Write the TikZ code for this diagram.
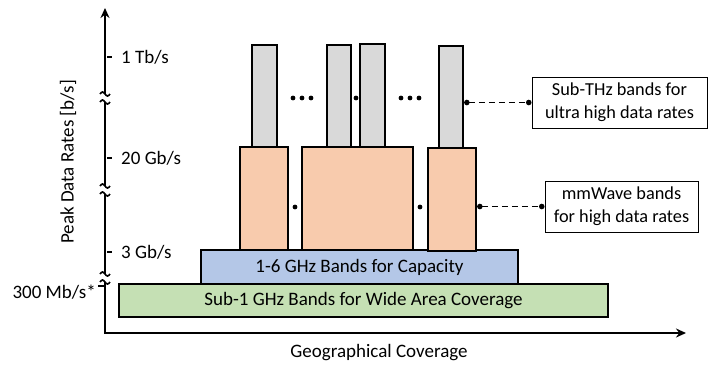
\documentclass[tikz,border=0pt]{standalone}
\usepackage{fontspec}
\setmainfont{Carlito}
\usetikzlibrary{arrows.meta}

\tikzset{
	band/.style={draw,line width=2.2pt,inner sep=0pt,font=\fontsize{19}{22}\selectfont},
	callout/.style={draw,line width=1pt,align=center,inner sep=0pt,font=\fontsize{18.3}{23}\selectfont},
	ratelabel/.style={font=\fontsize{19}{22}\selectfont,inner sep=0pt},
	leader/.style={dash pattern=on 6pt off 4pt,line width=1.4pt,{Circle[length=5.5pt]}-{Circle[length=5.5pt]}}
}
\definecolor{thzgray}{HTML}{D9D9D9}
\definecolor{mmorange}{HTML}{F8CBAD}
\definecolor{midblue}{HTML}{B4C7E7}
\definecolor{lowgreen}{HTML}{C5E0B4}

\newcommand{\axisbreak}[1]{%
	\draw[line width=1.6pt] (100,#1) sin (102.5,#1-2) cos (105,#1) sin (107.5,#1+2) cos (110,#1);
}

\begin{document}
\begin{tikzpicture}[x=1pt,y=-1pt,>={Stealth[length=10pt,width=9pt]}]

\useasboundingbox (0,0) rectangle (721,368);

% bands
\node[band,fill=lowgreen,minimum width=489pt,minimum height=33pt] (sub1) at (363.5,300.5) {Sub-1 GHz Bands for Wide Area Coverage};
\node[band,fill=midblue,minimum width=317pt,minimum height=34pt] (mid) at (359.5,267) {1-6 GHz Bands for Capacity};

\node[band,fill=mmorange,minimum width=48pt,minimum height=103pt] (mm1) at (264,198.5) {};
\node[band,fill=mmorange,minimum width=111pt,minimum height=103pt] (mm2) at (357.5,198.5) {};
\node[band,fill=mmorange,minimum width=48pt,minimum height=103pt] (mm3) at (452,199.5) {};

\node[band,fill=thzgray,minimum width=25pt,minimum height=102pt] (thz1) at (264.5,96) {};
\node[band,fill=thzgray,minimum width=24pt,minimum height=102pt] (thz2) at (339,96) {};
\node[band,fill=thzgray,minimum width=25pt,minimum height=103pt] (thz3) at (372.5,95.5) {};
\node[band,fill=thzgray,minimum width=24pt,minimum height=102pt] (thz4) at (451,97) {};

\foreach \x in {293,302,311,401,410,419}{
	\fill (\x,98) circle (2.4pt);
}
\fill (356,98) circle (2.4pt);
\fill (295,207) circle (2.4pt);
\fill (420,207) circle (2.4pt);

% callouts
\node[callout,minimum width=175pt,minimum height=51pt] (thznote) at (619.5,102.5) {Sub-THz bands for\\ultra high data rates};
\node[callout,minimum width=153pt,minimum height=51pt] (mmnote) at (621.5,206.5) {mmWave bands\\for high data rates};

\draw[leader] (thznote.west -| thz4.east) -- (thznote.west);
\draw[leader] (mmnote.west -| mm3.east) -- (mmnote.west);

% axes
\draw[->,line width=2.2pt] (105,94)--(105,8);
\draw[line width=2.2pt] (105,186)--(105,102);
\draw[line width=2.2pt] (105,274)--(105,194);
\draw[->,line width=2.2pt] (105,282)--(105,333)--(686,333);

\axisbreak{94}
\axisbreak{102}
\axisbreak{186}
\axisbreak{194}
\axisbreak{274}
\axisbreak{282}

\foreach \y in {57,158,252}{
	\draw[line width=1.6pt] (107,\y)--(112,\y);
}
\draw[line width=1.6pt] (98,286)--(105,286);

\node[ratelabel,anchor=west] (tb) at (121,57) {1 Tb/s};
\node[ratelabel,anchor=west] (gb20) at (121,158) {20 Gb/s};
\node[ratelabel,anchor=west] (gb3) at (121,252) {3 Gb/s};
\node[ratelabel,anchor=east] (mb300) at (96,292) {300 Mb/s*};

\node[ratelabel,rotate=90] (ylab) at (68,162) {Peak Data Rates [b/s]};
\node[ratelabel] (xlab) at (379,353) {Geographical Coverage};

\end{tikzpicture}
\end{document}
